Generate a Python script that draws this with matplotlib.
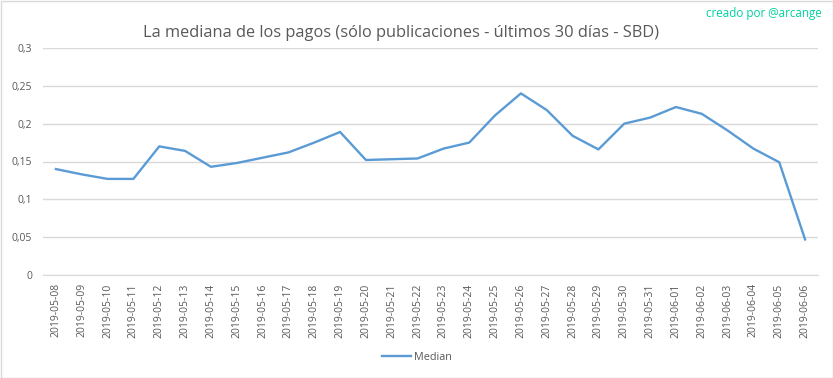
import matplotlib
matplotlib.use("Agg")
import matplotlib.pyplot as plt
from matplotlib.patches import Rectangle
from matplotlib.ticker import FixedLocator, FuncFormatter

dates = ["2019-05-08", "2019-05-09", "2019-05-10", "2019-05-11", "2019-05-12",
         "2019-05-13", "2019-05-14", "2019-05-15", "2019-05-16", "2019-05-17",
         "2019-05-18", "2019-05-19", "2019-05-20", "2019-05-21", "2019-05-22",
         "2019-05-23", "2019-05-24", "2019-05-25", "2019-05-26", "2019-05-27",
         "2019-05-28", "2019-05-29", "2019-05-30", "2019-05-31", "2019-06-01",
         "2019-06-02", "2019-06-03", "2019-06-04", "2019-06-05", "2019-06-06"]
median = [0.140, 0.133, 0.127, 0.127, 0.170,
          0.164, 0.143, 0.148, 0.155, 0.162,
          0.175, 0.189, 0.152, 0.153, 0.154,
          0.167, 0.175, 0.211, 0.240, 0.218,
          0.184, 0.166, 0.200, 0.208, 0.222,
          0.213, 0.191, 0.167, 0.149, 0.047]
yticks = [0, 0.05, 0.1, 0.15, 0.2, 0.25, 0.3]

plt.rcParams['font.family'] = ['Open Sans', 'DejaVu Sans']
W, H = 833, 378
fig = plt.figure(figsize=(W / 100, H / 100), dpi=100)
fig.patches.append(Rectangle((0.5 / W, 0.5 / H), 1 - 1.0 / W, 1 - 1.0 / H,
                             transform=fig.transFigure, fill=False,
                             edgecolor='#d9d9d9', linewidth=1))

left, right, top, bottom = 43, 818, 48, 275
ax = fig.add_axes([left / W, 1 - bottom / H, (right - left) / W, (bottom - top) / H])
x = list(range(len(dates)))
ax.plot(x, median, color='#5b9bd5', linewidth=1.7, label='Median')
ax.set_xlim(-0.5, len(dates) - 0.5)
ax.set_ylim(0, 0.3)
ax.yaxis.set_major_locator(FixedLocator(yticks))
ax.yaxis.set_major_formatter(FuncFormatter(lambda v, p: ('%g' % round(v, 2)).replace('.', ',')))
ax.set_xticks(x)
ax.set_xticklabels(dates, rotation=90)
ax.grid(axis='y', color='#d9d9d9', linewidth=1)
ax.set_axisbelow(True)
for s in ['top', 'right', 'left']:
    ax.spines[s].set_visible(False)
ax.spines['bottom'].set_color('#d9d9d9')
ax.tick_params(axis='both', length=0, colors='#595959', labelsize=7.5)
ax.tick_params(axis='x', pad=6)
ax.tick_params(axis='y', pad=8)

fig.text(401 / W, 1 - 33 / H, 'La mediana de los pagos (sólo publicaciones - últimos 30 días - SBD)',
         ha='center', va='center', fontsize=11.8, color='#595959')
fig.text(822 / W, 1 - 14 / H, 'creado por @arcange', ha='right', va='center',
         fontsize=8.4, color='#00d2a0')

leg = fig.legend(loc='center', bbox_to_anchor=(417 / W, 1 - 357 / H), frameon=False,
                 fontsize=7.8, handlelength=2.6, handletextpad=0.3)
for t in leg.get_texts():
    t.set_color('#595959')

fig.savefig('out.png', dpi=100)
